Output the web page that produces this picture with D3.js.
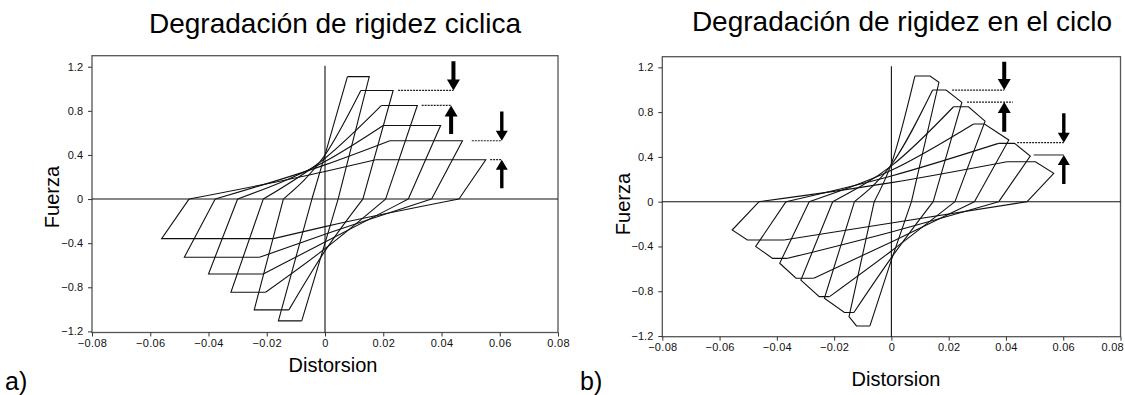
<!DOCTYPE html>
<html>
<head>
<meta charset="utf-8">
<script src="https://cdn.jsdelivr.net/npm/d3@7"></script>
<style>
	body { margin: 0; background: #fff; }
	svg { display: block; font-family: Arial, "Liberation Sans", sans-serif; }
	.frame { fill: none; stroke: #555; stroke-width: 1.3; }
	.axis path { display: none; }
	.axis line { stroke: #333; }
	.axis text { font-size: 11px; fill: #111; }
	.loop { fill: none; stroke: #111; stroke-width: 1.1; }
	.zero { stroke: #111; stroke-width: 1.1; }
	.guide { stroke: #222; stroke-width: 1.2; stroke-dasharray: 2,1; }
	.guide.solid { stroke-dasharray: none; stroke-width: 1; }
	.arrow { fill: #000; }
</style>
</head>
<body>
<div id="chart"></div>
<script>
const xTicks = [-0.08, -0.06, -0.04, -0.02, 0, 0.02, 0.04, 0.06, 0.08];
const yTicks = [-1.2, -0.8, -0.4, 0, 0.4, 0.8, 1.2];

/* a) cyclic degradation: [distorsion, fuerza]
   positive excursion A -> B -> C (C on zero line), negative D -> E -> F */
const aPos = [
	[[0.0077, 1.11], [0.0152, 1.11], [0.0045, 0]],
	[[0.0123, 0.985], [0.0234, 0.985], [0.013, 0]],
	[[0.0194, 0.849], [0.0317, 0.849], [0.0208, 0]],
	[[0.020, 0.667], [0.0397, 0.667], [0.0286, 0]],
	[[0.0223, 0.529], [0.0472, 0.529], [0.0366, 0]],
	[[0.0174, 0.357], [0.0552, 0.357], [0.046, 0]]
];
const aNeg = [
	[[-0.008, -1.105], [-0.016, -1.105], [-0.0045, 0]],
	[[-0.0124, -1.005], [-0.0243, -1.005], [-0.0143, 0]],
	[[-0.0204, -0.845], [-0.0323, -0.845], [-0.0212, 0]],
	[[-0.0212, -0.679], [-0.040, -0.679], [-0.030, 0]],
	[[-0.0225, -0.528], [-0.0483, -0.528], [-0.0377, 0]],
	[[-0.0177, -0.359], [-0.0561, -0.359], [-0.0467, 0]]
];
// fuerza where the reloading branches cross distorsion = 0
const aPinchPos = [0.40, 0.40, 0.37, 0.34, 0.31, 0.25];
const aPinchNeg = [-0.40, -0.47, -0.45, -0.39, -0.32, -0.25];
// leader lines [x1, x2, fuerza] and arrows [x, from, to]
const aGuides = [[0.0251, 0.0441, 0.985], [0.0332, 0.0433, 0.849], [0.0504, 0.0607, 0.529], [0.0567, 0.0607, 0.357]];
const aArrows = [[0.0441, 1.25, 0.985], [0.0433, 0.59, 0.849], [0.0607, 0.794, 0.529], [0.0607, 0.097, 0.357]];

/* b) in-cycle degradation: A -> B -> B' -> C, D -> E -> E' -> F */
const bPos = [
	[[0.0082, 1.122], [0.0135, 1.122], [0.0166, 1.066], [0.007, 0]],
	[[0.0144, 0.997], [0.0191, 0.997], [0.0246, 0.887], [0.0146, 0]],
	[[0.0217, 0.848], [0.0269, 0.848], [0.0327, 0.72], [0.0222, 0]],
	[[0.0287, 0.694], [0.0325, 0.694], [0.041, 0.551], [0.029, 0]],
	[[0.0374, 0.521], [0.043, 0.521], [0.0485, 0.408], [0.0375, 0]],
	[[0.0404, 0.357], [0.0503, 0.357], [0.0567, 0.253], [0.0474, 0]]
];
const bNeg = [
	[[-0.0075, -1.11], [-0.0122, -1.11], [-0.0148, -1.027], [-0.006, 0]],
	[[-0.0131, -0.99], [-0.0164, -0.99], [-0.0234, -0.863], [-0.0129, 0]],
	[[-0.0216, -0.848], [-0.0252, -0.848], [-0.0316, -0.70], [-0.0205, 0]],
	[[-0.0272, -0.684], [-0.0333, -0.684], [-0.039, -0.55], [-0.0287, 0]],
	[[-0.0362, -0.506], [-0.0415, -0.506], [-0.0474, -0.40], [-0.0368, 0]],
	[[-0.0374, -0.342], [-0.0503, -0.342], [-0.0556, -0.253], [-0.0462, 0]]
];
const bPinchPos = [0.34, 0.33, 0.32, 0.28, 0.23, 0.17];
const bPinchNeg = [-0.52, -0.50, -0.44, -0.36, -0.27, -0.19];
const bGuides = [[0.0212, 0.0394, 0.997], [0.0264, 0.0424, 0.89], [0.0439, 0.0602, 0.527], [0.0497, 0.0602, 0.417]];
const bArrows = [[0.0394, 1.25, 0.997], [0.0394, 0.625, 0.89], [0.0602, 0.789, 0.527], [0.0602, 0.158, 0.417]];

const panels = [
	{
		title: 'Degradación de rigidez ciclica', tag: 'a)',
		pos: aPos, neg: aNeg, pinchPos: aPinchPos, pinchNeg: aPinchNeg, guides: aGuides, arrows: aArrows,
		box: {left: 92, right: 558, top: 55.7, bottom: 332.5}, yDomain: [-1.21, 1.3],
		titleX: 335, titleY: 33, yLabelX: 59, yLabelY: 197, xLabelX: 333, xLabelY: 372, tagX: 5,
		solidLast: false, endLabel: false
	},
	{
		title: 'Degradación de rigidez en el ciclo', tag: 'b)',
		pos: bPos, neg: bNeg, pinchPos: bPinchPos, pinchNeg: bPinchNeg, guides: bGuides, arrows: bArrows,
		box: {left: 662.3, right: 1120.5, top: 56.7, bottom: 336.7}, yDomain: [-1.206, 1.295],
		titleX: 902, titleY: 31, yLabelX: 630, yLabelY: 204, xLabelX: 896, xLabelY: 386, tagX: 580,
		solidLast: true, endLabel: true
	}
];

const svg = d3.select('#chart').append('svg')
	.attr('width', 1125)
	.attr('height', 395);

function arrowPath(cx, y0, y1, shaft, headW, headH) {
	const dir = Math.sign(y1 - y0);
	const base = y1 - dir * headH;
	return `M${cx - shaft / 2},${y0}L${cx + shaft / 2},${y0}L${cx + shaft / 2},${base}` +
		`L${cx + headW / 2},${base}L${cx},${y1}L${cx - headW / 2},${base}L${cx - shaft / 2},${base}Z`;
}

function drawPanel(p) {
	const x = d3.scaleLinear().domain([-0.08, 0.08]).range([p.box.left, p.box.right]);
	const y = d3.scaleLinear().domain(p.yDomain).range([p.box.bottom, p.box.top]);
	const g = svg.append('g');

	g.append('rect').classed('frame', true)
		.attr('x', p.box.left).attr('y', p.box.top)
		.attr('width', p.box.right - p.box.left)
		.attr('height', p.box.bottom - p.box.top);

	g.append('g').classed('axis', true)
		.attr('transform', `translate(${p.box.left},0)`)
		.call(d3.axisLeft(y).tickValues(yTicks).tickSize(4).tickPadding(5)
			.tickFormat(d => d3.format('')(+d.toFixed(1))));

	const xLabels = g.append('g').classed('axis', true)
		.attr('transform', `translate(0,${p.box.bottom})`)
		.call(d3.axisBottom(x).tickValues(xTicks).tickSize(4).tickPadding(3)
			.tickFormat(d => d3.format('')(+d.toFixed(2))))
		.selectAll('text').style('letter-spacing', '0.3px');

	// last label of the right panel sits inside the window edge
	if (p.endLabel) {
		xLabels.filter(d => d === 0.08).attr('text-anchor', 'end').attr('x', 3);
	}

	// zero lines
	g.append('line').classed('zero', true)
		.attr('x1', p.box.left).attr('x2', p.box.right)
		.attr('y1', y(0)).attr('y2', y(0));
	g.append('line').classed('zero', true)
		.attr('x1', x(0)).attr('x2', x(0))
		.attr('y1', y(1.21)).attr('y2', p.box.bottom);

	const lin = d3.line().x(d => x(d[0])).y(d => y(d[1]));
	const smooth = d3.line().x(d => x(d[0])).y(d => y(d[1])).curve(d3.curveMonotoneX);

	p.pos.forEach((up, i) => {
		const down = p.neg[i];
		const A = up[0], C = up[up.length - 1];
		const D = down[0], F = down[down.length - 1];
		g.append('path').classed('loop', true).attr('d', lin(up));
		g.append('path').classed('loop', true).attr('d', lin(down));
		g.append('path').classed('loop', true).attr('d', smooth([D, [0, p.pinchNeg[i]], C]));
		g.append('path').classed('loop', true).attr('d', smooth([F, [0, p.pinchPos[i]], A]));
	});

	p.guides.forEach((d, i) => {
		g.append('line').classed('guide', true)
			.classed('solid', p.solidLast && i === 3)
			.attr('x1', x(d[0])).attr('x2', x(d[1]))
			.attr('y1', y(d[2])).attr('y2', y(d[2]));
	});

	p.arrows.forEach((d, i) => {
		const big = i < 2;
		g.append('path').classed('arrow', true)
			.attr('d', arrowPath(x(d[0]), y(d[1]), y(d[2]), big ? 4 : 3.4, big ? 13 : 12, big ? 11 : 10));
	});

	svg.append('text')
		.attr('x', p.titleX).attr('y', p.titleY)
		.attr('text-anchor', 'middle')
		.style('font-size', '28px')
		.text(p.title);

	svg.append('text')
		.attr('transform', `translate(${p.yLabelX},${p.yLabelY}) rotate(-90)`)
		.attr('text-anchor', 'middle')
		.style('font-size', '20px')
		.text('Fuerza');

	svg.append('text')
		.attr('x', p.xLabelX).attr('y', p.xLabelY)
		.attr('text-anchor', 'middle')
		.style('font-size', '20px')
		.text('Distorsion');

	svg.append('text')
		.attr('x', p.tagX).attr('y', 390)
		.style('font-size', '25px')
		.text(p.tag);
}

panels.forEach(drawPanel);
</script>
</body>
</html>
